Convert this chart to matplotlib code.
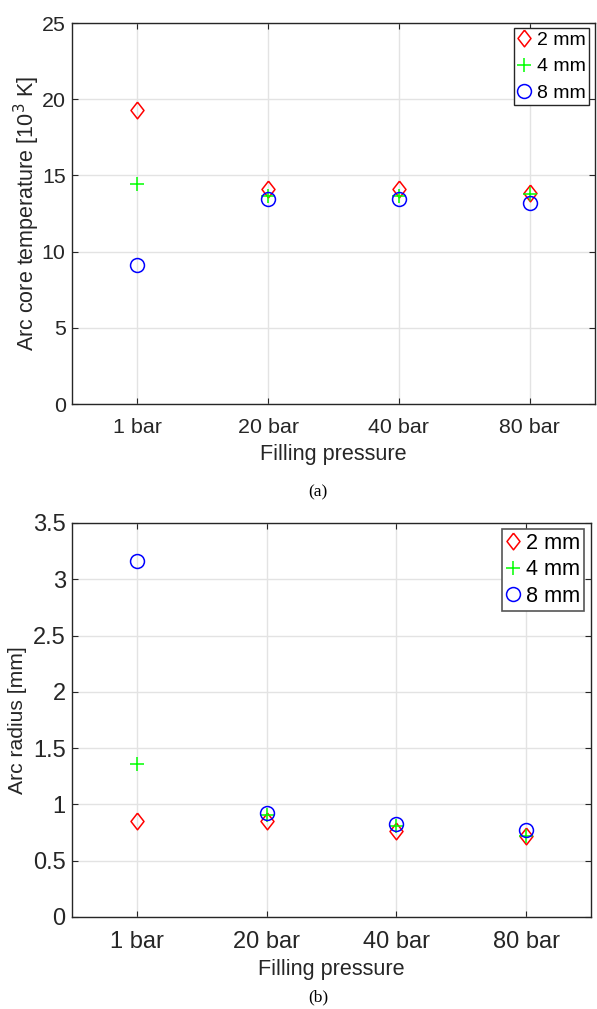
import matplotlib
matplotlib.use('Agg')
import matplotlib.pyplot as plt

pressures = ['1 bar', '20 bar', '40 bar', '80 bar']
sizes = ['2 mm', '4 mm', '8 mm']

# arc core temperature in 10^3 K
temp_2mm = [19.31, 14.1, 14.08, 13.84]
temp_4mm = [14.46, 13.68, 13.68, 13.8]
temp_8mm = [9.11, 13.43, 13.45, 13.19]

# arc radius in mm
rad_2mm = [0.853, 0.855, 0.765, 0.715]
rad_4mm = [1.362, 0.906, 0.809, 0.72]
rad_8mm = [3.158, 0.926, 0.826, 0.773]

plt.rcParams['font.family'] = 'Liberation Sans'
dark = '#262626'
diamond = [(0, 1), (0.78, 0), (0, -1), (-0.78, 0), (0, 1)]
styles = [dict(marker=diamond, color='#ff0000', ms=12),
          dict(marker='+', color='#00ff00', ms=10),
          dict(marker='o', color='#0000ff', ms=10)]

fig = plt.figure(figsize=(5.97, 10.09), dpi=100)
ax1 = fig.add_axes([0.1206, 0.5996, 0.8760, 0.3776])
ax2 = fig.add_axes([0.1206, 0.0912, 0.8693, 0.3905])

xs = [1, 2, 3, 4]


def style_axes(ax, fs, lpad):
    ax.set_xlim(0.5, 4.5)
    ax.set_xticks(xs)
    ax.set_xticklabels(pressures)
    ax.grid(True, color='#e3e3e3', linewidth=1)
    ax.set_axisbelow(True)
    ax.tick_params(direction='in', length=4, width=0.8, colors=dark,
                   labelsize=fs, top=True, right=True)
    ax.tick_params(axis='y', pad=4.5)
    ax.tick_params(axis='x', pad=10)
    for sp in ax.spines.values():
        sp.set_color(dark)
        sp.set_linewidth(1)
    ax.set_xlabel('Filling pressure', fontsize=15.6, color=dark, labelpad=lpad)


def draw(ax, series):
    for ys, st, lab in zip(series, styles, sizes):
        ax.plot(xs, ys, linestyle='none', marker=st['marker'], ms=st['ms'],
                mfc='none', mec=st['color'], mew=1.1, label=lab)


# (a) temperature
draw(ax1, [temp_2mm, temp_4mm, temp_8mm])
style_axes(ax1, 15.4, 5)
ax1.set_ylim(0, 25)
ax1.set_yticks([0, 5, 10, 15, 20, 25])
ax1.set_ylabel('Arc core temperature [10$^3$ K]', fontsize=15.5, color=dark)
ax1.yaxis.set_label_coords(-0.058, 0.5)
leg1 = ax1.legend(loc='upper right', bbox_to_anchor=(0.989, 0.987), borderaxespad=0,
                  fontsize=14, handlelength=0.7, handletextpad=0.3, labelspacing=0.45,
                  borderpad=0.18, fancybox=False, framealpha=1, edgecolor=dark)
leg1.get_frame().set_linewidth(1)

# (b) radius
draw(ax2, [rad_2mm, rad_4mm, rad_8mm])
style_axes(ax2, 17, 4.5)
ax2.set_ylim(0, 3.5)
ax2.set_yticks([0, 0.5, 1, 1.5, 2, 2.5, 3, 3.5])
ax2.set_yticklabels(['0', '0.5', '1', '1.5', '2', '2.5', '3', '3.5'])
ax2.set_ylabel('Arc radius [mm]', fontsize=15.2, color=dark)
ax2.yaxis.set_label_coords(-0.086, 0.5)
leg2 = ax2.legend(loc='upper right', bbox_to_anchor=(0.9875, 0.985), borderaxespad=0,
                  fontsize=15.6, handlelength=0.7, handletextpad=0.25, labelspacing=0.25,
                  borderpad=0.18, fancybox=False, framealpha=1, edgecolor='#555555')
leg2.get_frame().set_linewidth(1.2)

fig.text(0.533, 1 - 492 / 1009, '(a)', family='Liberation Serif', fontsize=12.5,
         ha='center', va='center')
fig.text(0.533, 1 - 997 / 1009, '(b)', family='Liberation Serif', fontsize=12.5,
         ha='center', va='center')

fig.savefig('out.png', dpi=100)
